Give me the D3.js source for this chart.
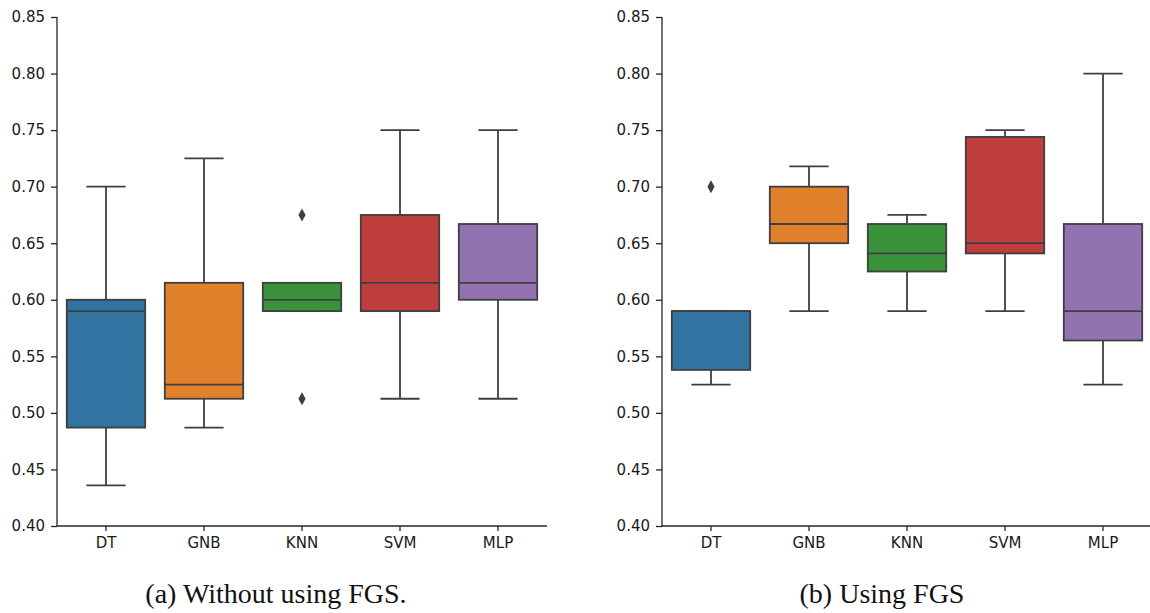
<!DOCTYPE html>
<html><head><meta charset="utf-8">
<script src="https://cdn.jsdelivr.net/npm/d3@7"></script>
<style>
body{margin:0;background:#fff}svg{display:block}
.tk text{font-family:"DejaVu Sans",Verdana,sans-serif;font-size:15px}
.cap{font-family:"Liberation Serif","Times New Roman",Times,serif;font-size:28px}
</style>
</head><body>
<svg id="c" width="1150" height="613"></svg>
<script>
const categories = ["DT","GNB","KNN","SVM","MLP"];
const colors = ["#3274a1","#e1812c","#3a923a","#c03d3e","#9372b2"];
const yTicks = [0.40,0.45,0.50,0.55,0.60,0.65,0.70,0.75,0.80,0.85];
// [whiskerLow, Q1, median, Q3, whiskerHigh]
const statsA = [
  [0.436,0.487,0.590,0.600,0.700],
  [0.487,0.5125,0.525,0.615,0.725],
  [0.590,0.590,0.600,0.615,0.615],
  [0.5125,0.590,0.615,0.675,0.750],
  [0.5125,0.600,0.615,0.667,0.750]
];
const outliersA = [[],[],[0.675,0.5125],[],[]];
const statsB = [
  [0.525,0.538,0.590,0.590,0.590],
  [0.590,0.650,0.667,0.700,0.718],
  [0.590,0.625,0.641,0.667,0.675],
  [0.590,0.641,0.650,0.744,0.750],
  [0.525,0.564,0.590,0.667,0.800]
];
const outliersB = [[0.700],[],[],[],[]];
const captions = ["(a) Without using FGS.","(b) Using FGS"];

const svg = d3.select("#c");
const panels = [
  {x0:57, x1:547, stats:statsA, out:outliersA, cap:captions[0], cx:276},
  {x0:662, x1:1152, stats:statsB, out:outliersB, cap:captions[1], cx:882}
];
const yTop = 17, yBot = 526;
const lineC = "#3f3f3f";

panels.forEach(p => {
  const g = svg.append("g");
  const x = d3.scaleBand().domain(categories).range([p.x0, p.x1]).padding(0);
  const y = d3.scaleLinear().domain([0.40,0.85]).range([yBot, yTop]);
  const bw = x.bandwidth()*0.8, cw = x.bandwidth()*0.4;

  categories.forEach((c,i) => {
    const s = p.stats[i], cx = x(c)+x.bandwidth()/2;
    const bg = g.append("g");
    bg.append("line").attr("x1",cx).attr("x2",cx).attr("y1",y(s[0])).attr("y2",y(s[1]))
      .attr("stroke",lineC).attr("stroke-width",1.8);
    bg.append("line").attr("x1",cx).attr("x2",cx).attr("y1",y(s[3])).attr("y2",y(s[4]))
      .attr("stroke",lineC).attr("stroke-width",1.8);
    [s[0],s[4]].forEach(v => bg.append("line").attr("x1",cx-cw/2).attr("x2",cx+cw/2)
      .attr("y1",y(v)).attr("y2",y(v)).attr("stroke",lineC).attr("stroke-width",1.8));
    bg.append("rect").attr("x",cx-bw/2).attr("width",bw)
      .attr("y",y(s[3])).attr("height",Math.max(0,y(s[1])-y(s[3])))
      .attr("fill",colors[i]).attr("stroke",lineC).attr("stroke-width",1.8);
    bg.append("line").attr("x1",cx-bw/2).attr("x2",cx+bw/2).attr("y1",y(s[2])).attr("y2",y(s[2]))
      .attr("stroke",lineC).attr("stroke-width",1.8);
    p.out[i].forEach(v => {
      const yy = y(v);
      bg.append("path").attr("d",`M${cx},${yy-6.5}L${cx+3.6},${yy}L${cx},${yy+6.5}L${cx-3.6},${yy}Z`)
        .attr("fill",lineC);
    });
  });

  const ya = d3.axisLeft(y).tickValues(yTicks).tickFormat(d3.format(".2f")).tickSize(6).tickPadding(6);
  const yg = g.append("g").attr("class","tk").attr("transform",`translate(${p.x0},0)`).call(ya);
  const xa = d3.axisBottom(x).tickSize(5).tickPadding(6);
  const xg = g.append("g").attr("class","tk").attr("transform",`translate(0,${yBot})`).call(xa);
  [yg,xg].forEach(a => {
    a.attr("font-family",null).attr("font-size",null);
    a.select(".domain").attr("stroke","#262626").attr("stroke-width",1.3);
    a.selectAll(".tick line").attr("stroke","#262626").attr("stroke-width",1.3);
    a.selectAll(".tick text").attr("fill","#1a1a1a");
  });
  yg.select(".domain").attr("d",`M0,${yTop}V${yBot}`);
  xg.select(".domain").attr("d",`M${p.x0},0H${p.x1}`);

  svg.append("text").attr("class","cap").attr("x",p.cx).attr("y",603).attr("text-anchor","middle")
    .attr("fill","#111").text(p.cap);
});
</script>
</body></html>
